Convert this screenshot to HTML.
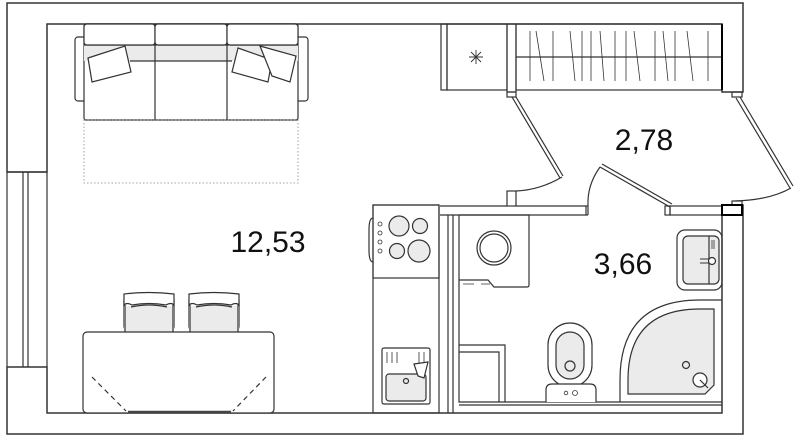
<!DOCTYPE html>
<html><head><meta charset="utf-8"><style>
html,body{margin:0;padding:0;background:#fff;width:800px;height:438px;overflow:hidden}
svg{display:block}
text{font-family:"Liberation Sans",sans-serif;fill:#111}
</style></head><body>
<svg width="800" height="438" viewBox="0 0 800 438" xmlns="http://www.w3.org/2000/svg" fill="none" stroke="#333" stroke-width="1.2">
<path d="M7 3 H743 V92 H722 V24 H47 V172 H7 Z" fill="#fff" stroke="#333" stroke-width="1.5"/>
<path d="M7 367 H47 V413 H722 V205 H743 V434 H7 Z" fill="#fff" stroke="#333" stroke-width="1.5"/>
<path d="M7 172 H47 M7 172 V367 M47 172 V367 M23 172 V367 M28 172 V367"/>
<rect x="75" y="37" width="17" height="64" rx="3" fill="#fff"/>
<rect x="291" y="37" width="17" height="64" rx="3" fill="#fff"/>
<rect x="84" y="24" width="214" height="96" rx="2" fill="#fff"/>
<rect x="84" y="45" width="214" height="16" fill="#ebebeb" stroke="none"/>
<path d="M84 45 H298 M155 24 V120 M227 24 V120 M130 61 H232"/>
<rect x="84" y="24" width="71" height="21" rx="3" fill="#fff"/>
<rect x="155" y="24" width="72" height="21" rx="3" fill="#fff"/>
<rect x="227" y="24" width="71" height="21" rx="3" fill="#fff"/>
<path d="M88 58 L125 46 L131 72 L92 82 Z" fill="#fff"/>
<path d="M238 48 L272 60 L268 82 L232 72 Z" fill="#fff"/>
<path d="M260 46 L296 56 L290 82 L272 76 Z" fill="#fff"/>
<rect x="84" y="120" width="214" height="63" stroke-dasharray="1.5 2" stroke="#888" stroke-width="0.8"/>
<rect x="441" y="24" width="6" height="66"/>
<rect x="447" y="24" width="60" height="66"/>
<path d="M476 50 V64 M469 57 H483 M471 52 L481 62 M481 52 L471 62" stroke-width="0.9"/>
<rect x="507" y="24" width="9" height="68"/>
<rect x="507" y="92" width="9" height="5"/>
<rect x="516" y="24" width="206" height="66"/>
<path d="M516 57 H722"/>
<path d="M530 31 V81 M536 31 L544 81 M553 31 V81 M570 31 L575 81 M582 31 V81 M591 31 V81 M600 31 L604 81 M615 31 V81 M626 31 V81 M634 31 L640 81 M655 31 V81 M663 31 L668 81 M675 31 V81 M687 31 L693 81 M708 31 V81" stroke-width="0.8"/>
<path d="M722 24 V90" stroke="#000" stroke-width="2"/>
<rect x="732" y="92" width="10" height="5"/>
<path d="M512 97 L560 178 M516 97 L563 176" />
<path d="M562 177 Q540 190 516 191"/>
<rect x="507" y="191" width="9" height="15"/>
<path d="M440 206 H507 M516 206 H588 M440 215 H588 M586 206 V215 M588 206 V215"/>
<path d="M600 167 L670 207 M602 164 L672 204"/>
<path d="M588 206 Q587 185 600 167"/>
<rect x="670" y="206" width="52" height="9"/>
<rect x="665" y="206" width="5" height="9"/>
<path d="M736 98 L790 188 M740 97 L793 186"/>
<path d="M791 188 Q770 200 735 201"/>
<rect x="732" y="201" width="10" height="5"/>
<rect x="722" y="205" width="20" height="10" fill="#fff" stroke="#000" stroke-width="2"/>
<rect x="373" y="205" width="66" height="208"/>
<rect x="373" y="205" width="66" height="73"/>
<path d="M373 218 Q369 218 369 230 V250 Q369 262 373 262"/>
<g fill="#ebebeb">
<circle cx="399" cy="226" r="10"/><circle cx="420" cy="226" r="7.5"/>
<circle cx="397" cy="251" r="7.5"/><circle cx="419" cy="251" r="11"/>
</g>
<g stroke-width="0.8"><circle cx="380" cy="224" r="2"/><circle cx="380" cy="233" r="2"/><circle cx="380" cy="242" r="2"/><circle cx="380" cy="251" r="2"/></g>
<rect x="382" y="348" width="48" height="56" rx="2"/>
<rect x="386" y="374" width="40" height="27" rx="3" fill="#ebebeb"/>
<path d="M387 352 V363 M392 352 V363 M397 352 V363 M419 352 V363 M424 352 V363" stroke-width="0.8"/>
<path d="M414 364 L428 362 L424 378 L418 376 Z" fill="#fff"/>
<circle cx="406" cy="381" r="2.5"/>
<path d="M448 215 V413 M453 215 V413 M459 215 V402 H722 M459 405 H722"/>
<path d="M459 215 H529 V285 Q529 287 527 287 H494 L488 280 H459"/>
<circle cx="494" cy="248" r="17"/><circle cx="494" cy="248" r="14"/>
<path d="M463 284 H474 M481 284 H490" stroke-width="0.8"/>
<rect x="677" y="230" width="45" height="60" rx="8"/>
<rect x="683" y="236" width="36" height="48" rx="5" fill="#ebebeb"/>
<path d="M709 236 V284"/>
<path d="M712 240 V249 M714 240 V249" stroke-width="0.8"/>
<path d="M700 259 H712 M700 263 H712" stroke-width="0.9"/>
<circle cx="712" cy="261" r="3.5" fill="#fff"/>
<path d="M620 402 V380 Q620 300 700 300 H722" fill="#fff"/>
<path d="M628 394 V380 Q628 309 700 309 H714 V385 L705 394 Z" fill="#ebebeb"/>
<circle cx="686" cy="365" r="3.5"/>
<circle cx="700" cy="380" r="7" fill="#fff"/>
<path d="M700 380 L708 388"/>
<rect x="548" y="323" width="44" height="64" rx="22" fill="#fff"/>
<rect x="556" y="332" width="28" height="47" rx="14" fill="#ebebeb"/>
<circle cx="570" cy="366" r="5"/>
<path d="M546 402 V390 Q546 384 552 384 H590 Q596 384 596 390 V402" fill="#fff"/>
<circle cx="566" cy="393" r="1.8" stroke-width="0.8"/><circle cx="575" cy="393" r="2.5" stroke-width="0.8"/>
<path d="M459 345 H505 V402 M459 352 H499 V402"/>
<rect x="124" y="294" width="50" height="38" rx="6" fill="#fff"/>
<rect x="124" y="306" width="50" height="26" fill="#ebebeb" stroke="none"/>
<path d="M125 305 V332 M173 305 V332"/>
<path d="M124 294 Q149 291 174 294 V305 Q171 302 166 305 Q149 302 132 305 Q127 302 124 305 Z" fill="#fff"/>
<path d="M131 307 Q149 303 167 307" />
<rect x="189" y="294" width="50" height="38" rx="6" fill="#fff"/>
<rect x="189" y="306" width="50" height="26" fill="#ebebeb" stroke="none"/>
<path d="M190 305 V332 M238 305 V332"/>
<path d="M189 294 Q214 291 239 294 V305 Q236 302 231 305 Q214 302 197 305 Q192 302 189 305 Z" fill="#fff"/>
<path d="M196 307 Q214 303 232 307"/>
<rect x="83" y="332" width="191" height="81" rx="4" fill="#fff"/>
<path d="M92 377 L126 411 M266 377 L233 411" stroke-dasharray="5 4"/>
<path d="M128 412 H231" stroke-width="2.4" stroke="#444"/>
<text x="268" y="252" font-size="30" text-anchor="middle" stroke="none">12,53</text>
<text x="644" y="150" font-size="30" text-anchor="middle" stroke="none">2,78</text>
<text x="623" y="274" font-size="30" text-anchor="middle" stroke="none">3,66</text>
</svg>
</body></html>
